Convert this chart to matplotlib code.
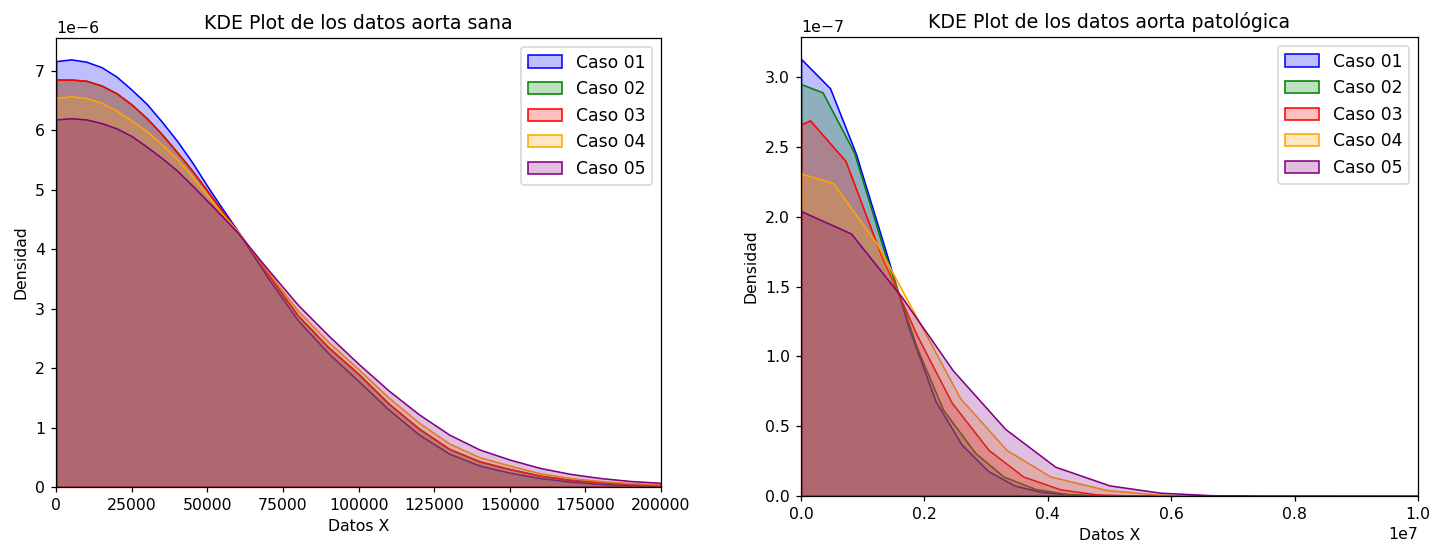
import matplotlib
matplotlib.use('Agg')
import matplotlib.pyplot as plt
from matplotlib.colors import to_rgba

casos = ['Caso 01', 'Caso 02', 'Caso 03', 'Caso 04', 'Caso 05']
colores = ['blue', 'green', 'red', 'orange', 'purple']

# aorta sana: densidad (x1e-6) sobre una malla comun
x_sana = [0, 5000, 10000, 15000, 20000, 25000, 30000, 35000, 40000, 45000,
          50000, 55000, 60000, 65000, 70000, 80000, 90000, 100000, 110000,
          120000, 130000, 140000, 150000, 160000, 170000, 180000, 190000, 200000]
sana_01 = [7.16, 7.19, 7.15, 7.06, 6.90, 6.68, 6.44, 6.14, 5.82, 5.46, 5.06, 4.68, 4.31,
           3.91, 3.52, 2.80, 2.25, 1.78, 1.30, 0.88, 0.56, 0.36, 0.24, 0.15, 0.09, 0.05,
           0.03, 0.015]
sana_02 = [6.85, 6.85, 6.83, 6.75, 6.62, 6.43, 6.20, 5.93, 5.63, 5.32, 4.98, 4.63, 4.30,
           3.95, 3.58, 2.88, 2.35, 1.90, 1.40, 0.98, 0.64, 0.43, 0.30, 0.19, 0.12, 0.08,
           0.05, 0.035]
sana_03 = [6.85, 6.85, 6.83, 6.75, 6.62, 6.43, 6.20, 5.93, 5.63, 5.32, 4.98, 4.63, 4.30,
           3.95, 3.58, 2.88, 2.35, 1.90, 1.40, 0.98, 0.64, 0.43, 0.30, 0.19, 0.12, 0.08,
           0.05, 0.035]
sana_04 = [6.54, 6.57, 6.54, 6.46, 6.33, 6.16, 5.98, 5.76, 5.51, 5.22, 4.91, 4.59, 4.30,
           3.96, 3.62, 2.96, 2.44, 1.98, 1.50, 1.08, 0.73, 0.50, 0.36, 0.23, 0.15, 0.10,
           0.065, 0.045]
sana_05 = [6.18, 6.20, 6.18, 6.12, 6.03, 5.90, 5.72, 5.53, 5.32, 5.07, 4.81, 4.55, 4.28,
           3.97, 3.66, 3.06, 2.55, 2.07, 1.62, 1.22, 0.88, 0.63, 0.46, 0.32, 0.22, 0.15,
           0.10, 0.07]

# aorta patologica: cada caso con sus propios puntos (x en 1e6, densidad x1e-7)
xp_01 = [0, 0.47, 0.89, 1.32, 1.75, 2.18, 2.6, 3.03, 3.46, 3.89, 4.32, 4.75, 5.6, 7.0, 10.0]
pat_01 = [3.13, 2.92, 2.45, 1.83, 1.20, 0.68, 0.37, 0.18, 0.075, 0.03, 0.012, 0.004, 0.001, 0, 0]
xp_02 = [0, 0.35, 0.86, 1.37, 1.88, 2.3, 2.82, 3.28, 3.8, 4.3, 4.8, 6.0, 10.0]
pat_02 = [2.95, 2.89, 2.46, 1.72, 1.06, 0.62, 0.31, 0.14, 0.05, 0.015, 0.004, 0, 0]
xp_03 = [0, 0.146, 0.72, 1.30, 1.88, 2.44, 3.04, 3.6, 4.2, 4.78, 5.4, 6.5, 10.0]
pat_03 = [2.66, 2.69, 2.40, 1.72, 1.15, 0.67, 0.33, 0.14, 0.048, 0.012, 0.003, 0, 0]
xp_04 = [0, 0.52, 1.24, 2.58, 3.33, 4.04, 4.95, 5.8, 6.6, 10.0]
pat_04 = [2.31, 2.24, 1.80, 0.70, 0.33, 0.14, 0.043, 0.01, 0.002, 0]
xp_05 = [0, 0.81, 1.64, 2.46, 3.31, 4.12, 5.0, 5.82, 6.65, 7.5, 10.0]
pat_05 = [2.04, 1.88, 1.42, 0.90, 0.48, 0.21, 0.076, 0.024, 0.006, 0.001, 0]

sana = [sana_01, sana_02, sana_03, sana_04, sana_05]
pat_x = [xp_01, xp_02, xp_03, xp_04, xp_05]
pat_y = [pat_01, pat_02, pat_03, pat_04, pat_05]

fig = plt.figure(figsize=(1448 / 113, 552 / 113), dpi=113)

ax1 = fig.add_axes([0.0387, 0.1178, 0.4178, 0.8134])
for y, c, lab in zip(sana, colores, casos):
    ax1.fill_between(x_sana, [v * 1e-6 for v in y], facecolor=to_rgba(c, 0.25),
                     edgecolor=c, linewidth=1, label=lab)
ax1.set_xlim(0, 200000)
ax1.set_ylim(0, ax1.get_ylim()[1])
ax1.set_title('KDE Plot de los datos aorta sana')
ax1.set_xlabel('Datos X')
ax1.set_ylabel('Densidad')
ax1.legend(loc='upper right', fontsize=11)

ax2 = fig.add_axes([0.5532, 0.1014, 0.4261, 0.8315])
for xs, y, c, lab in zip(pat_x, pat_y, colores, casos):
    ax2.fill_between([v * 1e6 for v in xs], [v * 1e-7 for v in y],
                     facecolor=to_rgba(c, 0.25), edgecolor=c, linewidth=1, label=lab)
ax2.set_xlim(0, 1e7)
ax2.set_ylim(0, ax2.get_ylim()[1])
ax2.set_title('KDE Plot de los datos aorta patológica')
ax2.set_xlabel('Datos X')
ax2.set_ylabel('Densidad')
ax2.legend(loc='upper right', fontsize=11)

fig.savefig('out.png', dpi=113)
